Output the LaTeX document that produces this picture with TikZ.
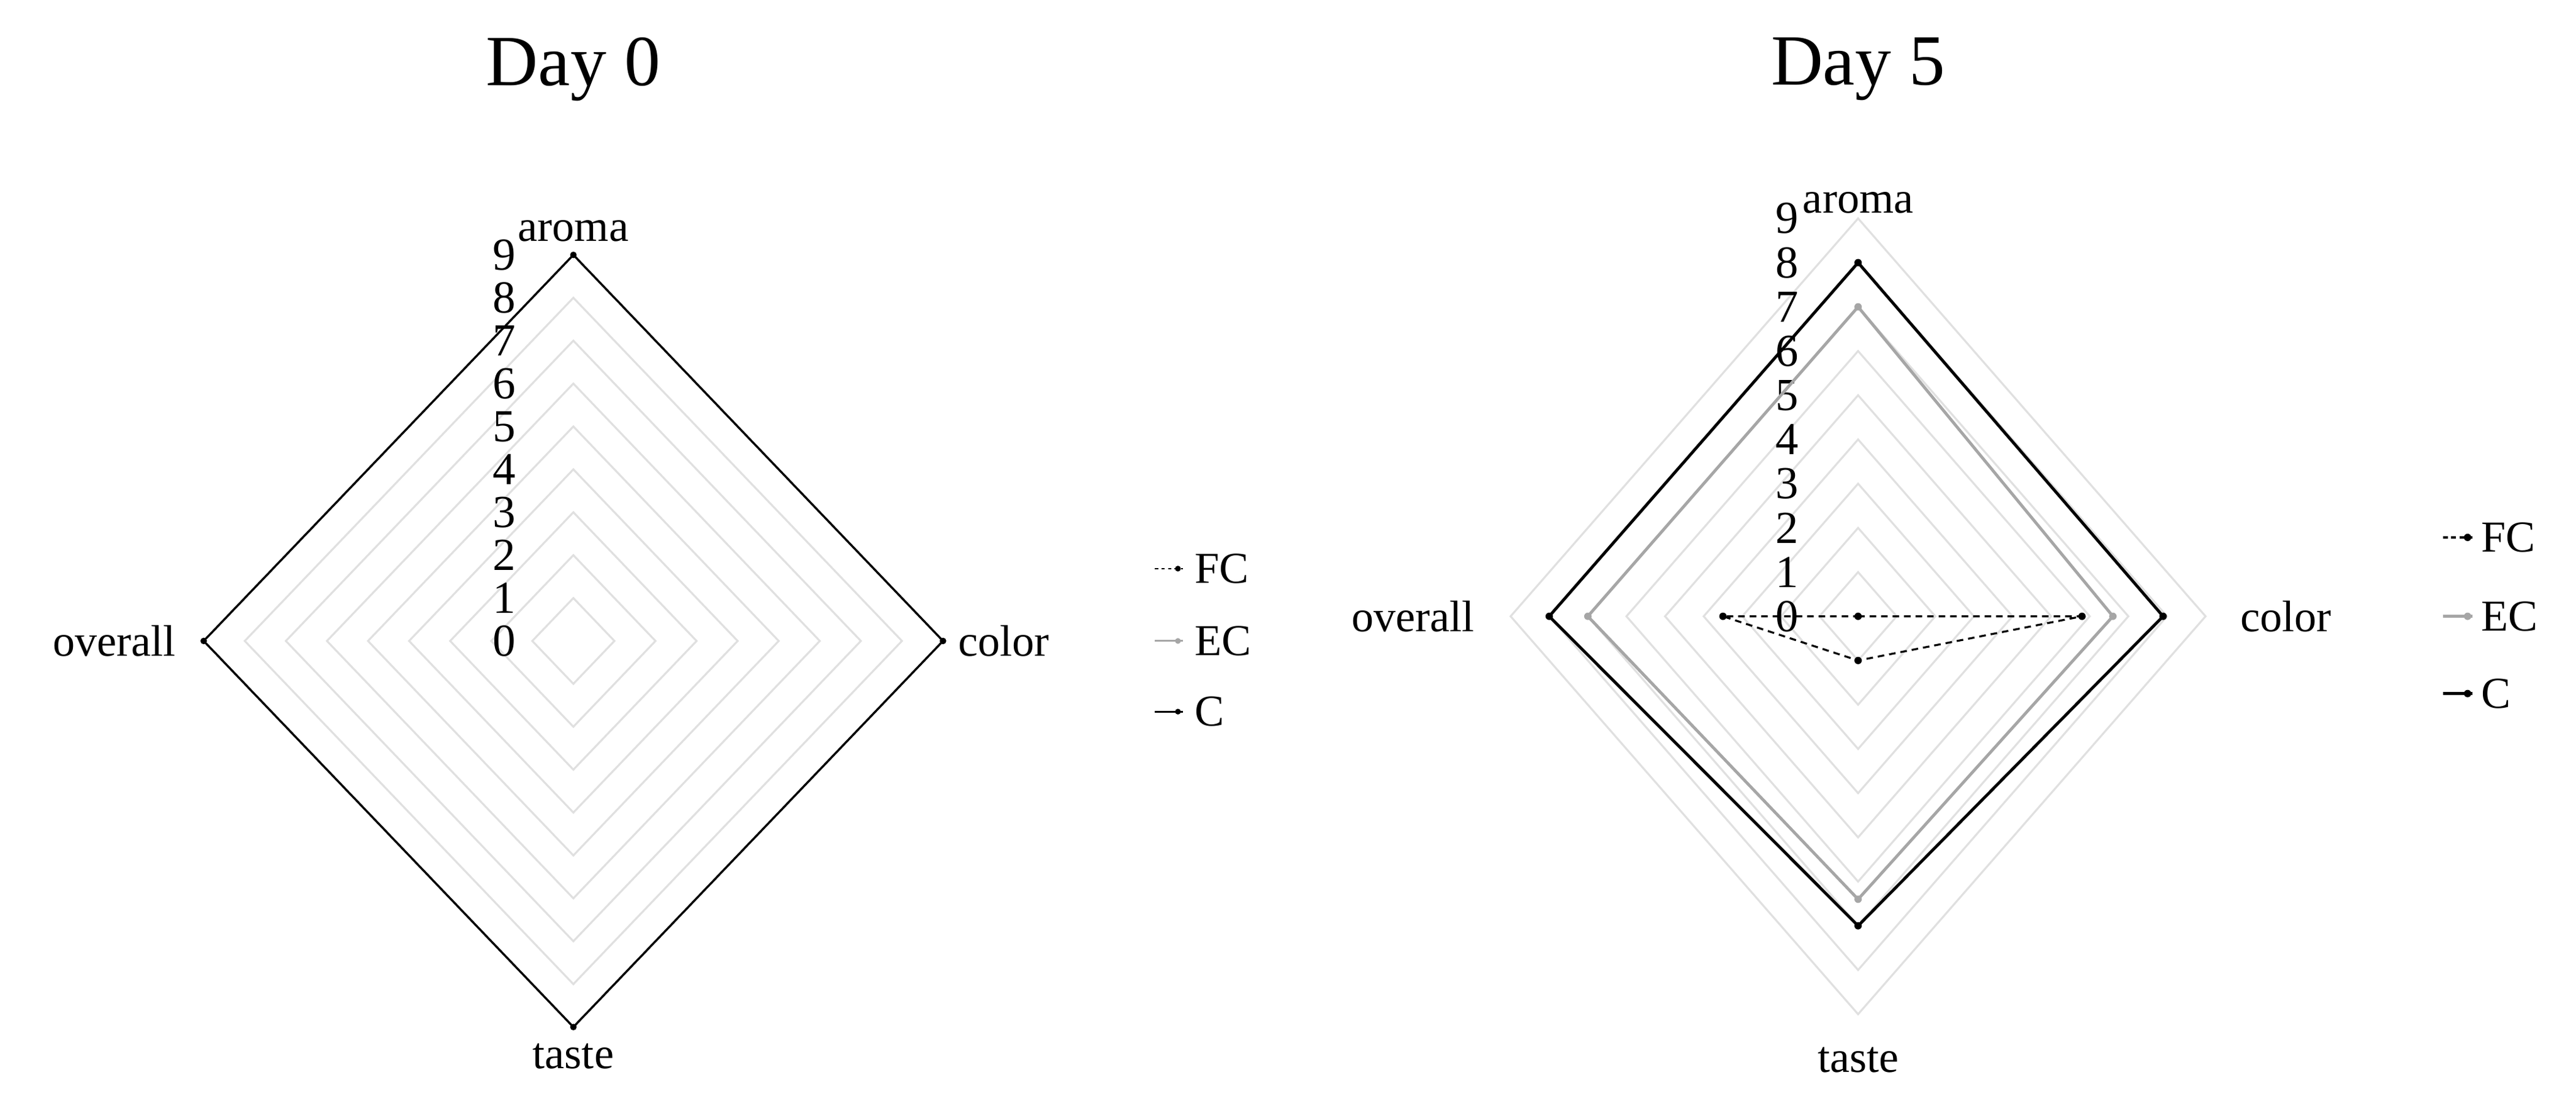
\documentclass[tikz,border=0pt]{standalone}
\usepackage{fontspec}
\setmainfont{Liberation Serif}
\begin{document}
\begin{tikzpicture}[x=1bp,y=1bp,
  grid/.style={draw=black!12,line width=1.2bp},
  lab/.style={font=\fontsize{27}{27}\selectfont,inner sep=0pt},
  num/.style={font=\fontsize{28}{28}\selectfont,inner sep=0pt,anchor=east},
  ttl/.style={font=\fontsize{44}{44}\selectfont,inner sep=0pt},
  sC/.style={draw=black,line width=1.8bp},
  sEC/.style={draw=black!35,line width=1.8bp},
  sFC/.style={draw=black,line width=1.2bp,dash pattern=on 4bp off 3bp},
  dotC/.style={circle,fill=black,inner sep=0pt,minimum size=4.5bp},
  dotE/.style={circle,fill=black!35,inner sep=0pt,minimum size=4.5bp}]
\useasboundingbox (0,0) rectangle (1568,679);
% ---------- Day 0 ----------
\begin{scope}[shift={(349,289)}]
\def\rx{25}\def\ry{26.1}
\foreach \v in {1,...,8}{\draw[grid] (0,\v*\ry) -- (\v*\rx,0) -- (0,-\v*\ry) -- (-\v*\rx,0) -- cycle;}
\foreach \v in {0,...,9}{\node[num] (a0n\v) at (-35,\v*\ry) {\v};}
\coordinate (a0a) at (0,9*\ry); \coordinate (a0c) at (9*\rx,0);
\coordinate (a0t) at (0,-9*\ry); \coordinate (a0o) at (-9*\rx,0);
\draw[sC,line width=1.3bp] (a0a) -- (a0c) -- (a0t) -- (a0o) -- cycle;
\foreach \p in {a0a,a0c,a0t,a0o}{\node[dotC,minimum size=4bp] at (\p) {};}
\node[lab,anchor=south] (L0a) at (0,9*\ry+8) {aroma};
\node[lab,anchor=west] (L0c) at (9*\rx+9,0) {color};
\node[lab,anchor=north] (L0t) at (0,-9*\ry-10) {taste};
\node[lab,anchor=east] (L0o) at (-9*\rx-17,0) {overall};
\node[ttl] (T0) at (0,637-289) {Day 0};
\end{scope}
% legend 0
\coordinate (g0a1) at (703,333); \coordinate (g0a2) at (720,333);
\draw[sFC,line width=1bp,dash pattern=on 2bp off 2bp] (g0a1) -- (g0a2); \node[dotC,minimum size=3.5bp] at (717,333) {};
\node[lab,anchor=west] (g0t1) at (727,333) {FC};
\coordinate (g0b1) at (703,289); \coordinate (g0b2) at (720,289);
\draw[sEC,line width=1.2bp] (g0b1) -- (g0b2); \node[dotE,minimum size=3.5bp] at (717,289) {};
\node[lab,anchor=west] (g0t2) at (727,289) {EC};
\coordinate (g0c1) at (703,246); \coordinate (g0c2) at (720,246);
\draw[sC,line width=1.2bp] (g0c1) -- (g0c2); \node[dotC,minimum size=3.5bp] at (717,246) {};
\node[lab,anchor=west] (g0t3) at (727,246) {C};
% ---------- Day 5 ----------
\begin{scope}[shift={(1131,304)}]
\def\rx{23.5}\def\ry{26.9}
\foreach \v in {1,...,9}{\draw[grid] (0,\v*\ry) -- (\v*\rx,0) -- (0,-\v*\ry) -- (-\v*\rx,0) -- cycle;}
\foreach \v in {0,...,9}{\node[num] (a5n\v) at (-36,\v*\ry) {\v};}
% C
\coordinate (c1) at (0,8*\ry); \coordinate (c2) at (7.9*\rx,0);
\coordinate (c3) at (0,-7*\ry); \coordinate (c4) at (-8*\rx,0);
% EC
\coordinate (e1) at (0,7*\ry); \coordinate (e2) at (6.6*\rx,0);
\coordinate (e3) at (0,-6.4*\ry); \coordinate (e4) at (-7*\rx,0);
% FC
\coordinate (f1) at (0,0); \coordinate (f2) at (5.8*\rx,0);
\coordinate (f3) at (0,-1*\ry); \coordinate (f4) at (-3.5*\rx,0);
\draw[sEC] (e1) -- (e2) -- (e3) -- (e4) -- cycle;
\foreach \p in {e1,e2,e3,e4}{\node[dotE] at (\p) {};}
\draw[sC] (c1) -- (c2) -- (c3) -- (c4) -- cycle;
\foreach \p in {c1,c2,c3,c4}{\node[dotC] at (\p) {};}
\draw[sFC] (f1) -- (f2) -- (f3) -- (f4) -- cycle;
\foreach \p in {f1,f2,f3,f4}{\node[dotC] at (\p) {};}
\node[lab,anchor=south] (L5a) at (0,9*\ry+3) {aroma};
\node[lab,anchor=west] (L5c) at (9*\rx+21,0) {color};
\node[lab,anchor=north] (L5t) at (0,-9*\ry-20) {taste};
\node[lab,anchor=east] (L5o) at (-9*\rx-22,0) {overall};
\node[ttl] (T5) at (0,637-304) {Day 5};
\end{scope}
% legend 5
\coordinate (g5a1) at (1487,352); \coordinate (g5a2) at (1505,352);
\draw[sFC,line width=1.3bp,dash pattern=on 3bp off 2bp] (g5a1) -- (g5a2); \node[dotC] at (1502,352) {};
\node[lab,anchor=west] (g5t1) at (1510,352) {FC};
\coordinate (g5b1) at (1487,304); \coordinate (g5b2) at (1505,304);
\draw[sEC] (g5b1) -- (g5b2); \node[dotE] at (1502,304) {};
\node[lab,anchor=west] (g5t2) at (1510,304) {EC};
\coordinate (g5c1) at (1487,257); \coordinate (g5c2) at (1505,257);
\draw[sC] (g5c1) -- (g5c2); \node[dotC] at (1502,257) {};
\node[lab,anchor=west] (g5t3) at (1510,257) {C};
\end{tikzpicture}
\end{document}
